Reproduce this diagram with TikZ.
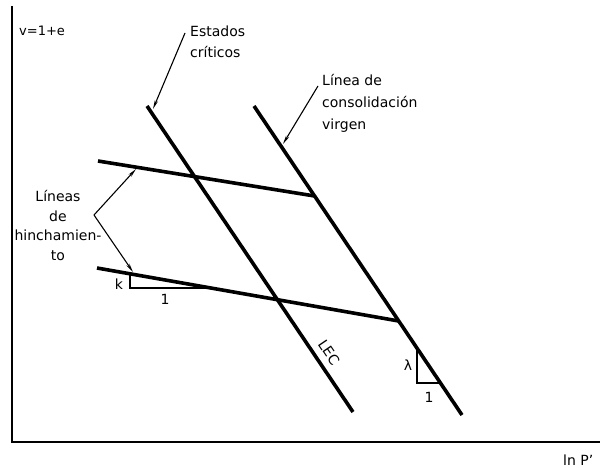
\documentclass[tikz,border=0pt]{standalone}
\usepackage{fontspec}
\setmainfont{DejaVu Sans}
\usetikzlibrary{arrows.meta}
\begin{document}
\begin{tikzpicture}[x=1pt,y=-1pt,
  heavy/.style={line width=3.6pt, line cap=butt},
  thinarrow/.style={line width=1.1pt, -{Stealth[length=9pt,width=3.4pt]}},
  tri/.style={line width=1.2pt},
  axis/.style={line width=1.6pt},
  lbl/.style={font=\fontsize{14}{21}\selectfont, inner sep=0pt},
  smalllbl/.style={font=\fontsize{13}{16}\selectfont, inner sep=0pt}]
\useasboundingbox (0,0) rectangle (600,468);
% axes
\coordinate (ytop) at (12,6);
\coordinate (o) at (12,442);
\coordinate (xend) at (600,442);
\draw[axis] (ytop) -- (o) -- (xend);
\node[smalllbl, anchor=base west] (vlab) at (19,36) {v=1+e};
\node[lbl, anchor=base west] (xlab) at (563,465) {ln P'};
% critical state line
\coordinate (c1) at (147,106);
\coordinate (c2) at (353,412);
\draw[heavy] (c1) -- (c2);
% normal consolidation line
\coordinate (n1) at (254,106);
\coordinate (n2) at (462,415);
\draw[heavy] (n1) -- (n2);
% swelling lines
\coordinate (u1) at (98,161);
\coordinate (u2) at (314.6,196);
\draw[heavy] (u1) -- (u2);
\coordinate (l1) at (97,268);
\coordinate (l2) at (398.7,321);
\draw[heavy] (l1) -- (l2);
% labels with arrows
\node[lbl, anchor=base west, align=left] (est) at (190,58) {Estados\\críticos};
\coordinate (esttail) at (185,33);
\coordinate (esttip) at (153,109);
\draw[thinarrow] (esttail) -- (esttip);
\node[lbl, anchor=base west, align=left, font=\fontsize{14}{22}\selectfont] (ncl) at (322,130) {Línea de\\consolidación\\virgen};
\coordinate (ncltail) at (318,86);
\coordinate (ncltip) at (283,144);
\draw[thinarrow] (ncltail) -- (ncltip);
\node[lbl, anchor=base, align=center, font=\fontsize{14}{19.5}\selectfont] (hin) at (58,260) {Líneas\\de\\hinchamien-\\to};
\coordinate (hinpt) at (94,215);
\coordinate (hintip1) at (136,169);
\coordinate (hintip2) at (133,272);
\draw[thinarrow] (hinpt) -- (hintip1);
\draw[thinarrow] (hinpt) -- (hintip2);
% kappa triangle
\coordinate (k1) at (130,273.8);
\coordinate (k2) at (130,288);
\coordinate (k3) at (210.6,288);
\draw[tri] (k1) -- (k2) -- (k3);
\node[lbl] (klab) at (119,284) {k};
\node[lbl] (kone) at (165,299) {1};
% lambda triangle
\coordinate (m1) at (417,348.2);
\coordinate (m2) at (417,383);
\coordinate (m3) at (440.4,383);
\draw[tri] (m1) -- (m2) -- (m3);
\node[lbl] (llab) at (408,365) {λ};
\node[lbl] (lone) at (429,397) {1};
% LEC label
\node[lbl, rotate=-56] (lec) at (329,352.5) {LEC};
\end{tikzpicture}
\end{document}
